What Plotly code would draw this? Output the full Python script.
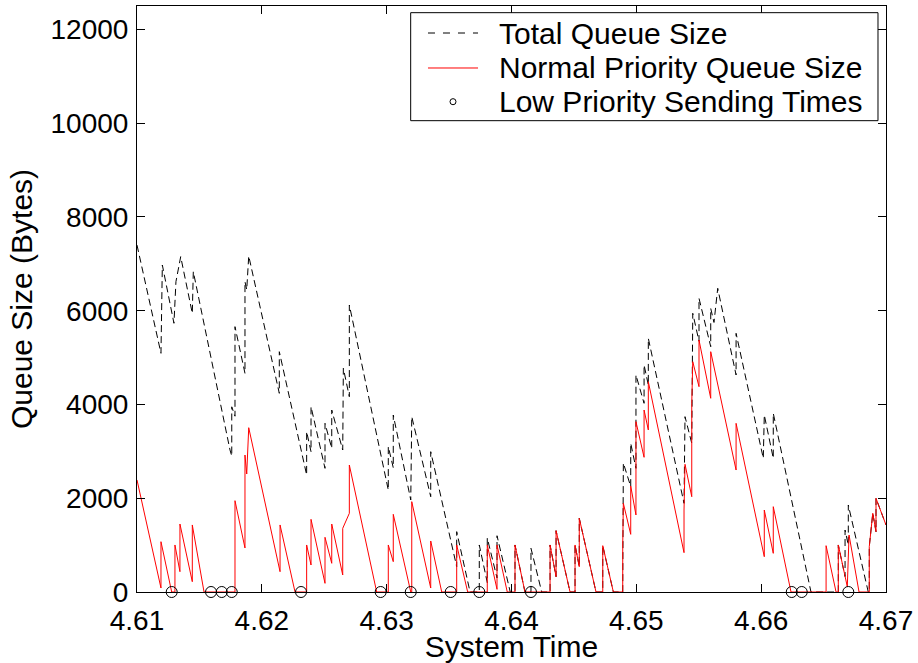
import plotly.graph_objects as go

# Normal priority queue size (bytes) over system time (s)
normal_t = [4.61000, 4.61192, 4.61192, 4.61278, 4.61304, 4.61304, 4.61344, 4.61344, 4.61443, 4.61443,
            4.61537, 4.61785, 4.61785, 4.61865, 4.61865, 4.61879, 4.61895, 4.62146, 4.62146, 4.62266,
            4.62359, 4.62359, 4.62394, 4.62394, 4.62506, 4.62506, 4.62560, 4.62560, 4.62648, 4.62648,
            4.62701, 4.62701, 4.62920, 4.63013, 4.63013, 4.63053, 4.63053, 4.63193, 4.63201, 4.63201,
            4.63353, 4.63353, 4.63441, 4.63561, 4.63561, 4.63649, 4.63806, 4.63806, 4.63884, 4.63884,
            4.63966, 4.64028, 4.64028, 4.64108, 4.64309, 4.64309, 4.64357, 4.64357, 4.64469, 4.64509,
            4.64509, 4.64543, 4.64543, 4.64677, 4.64731, 4.64731, 4.64816, 4.64891, 4.64891, 4.64896,
            4.64955, 4.64955, 4.64997, 4.64997, 4.65062, 4.65062, 4.65096, 4.65096, 4.65382, 4.65382,
            4.65390, 4.65444, 4.65444, 4.65452, 4.65502, 4.65502, 4.65596, 4.65596, 4.65799, 4.65799,
            4.66025, 4.66025, 4.66097, 4.66097, 4.66239, 4.66520, 4.66520, 4.66600, 4.66618, 4.66618,
            4.66690, 4.66704, 4.66784, 4.66866, 4.66866, 4.66894, 4.66920, 4.66920, 4.67000]
normal_q = [2390, 85, 1073, 0, 0, 1003, 433, 1450, 220, 1430,
            0, 0, 1948, 939, 2922, 2517, 3505, 433, 1430, 0,
            0, 1003, 576, 1550, 185, 1167, 612, 1450, 363, 1358,
            1679, 2709, 0, 0, 1003, 647, 1657, 0, 0, 1927,
            85, 1088, 0, 0, 1003, 0, 0, 1003, 57, 1003,
            0, 0, 1003, 0, 0, 1003, 327, 1308, 0, 0,
            1003, 540, 1572, 0, 0, 988, 0, 0, 1003, 1892,
            1230, 2261, 1643, 3633, 2873, 3882, 3456, 4486, 839, 1749,
            2724, 2033, 4025, 4913, 4380, 5375, 4132, 5126, 2602, 3598,
            753, 1749, 825, 1820, 0, 0, 988, 0, 0, 1003,
            113, 1216, 0, 0, 967, 1679, 1287, 1998, 1430]

# Total queue size (bytes) over system time (s)
total_t = [4.61000, 4.61192, 4.61203, 4.61296, 4.61312, 4.61350, 4.61443, 4.61451, 4.61745, 4.61759,
           4.61759, 4.61785, 4.61785, 4.61865, 4.61865, 4.61879, 4.61895, 4.62140, 4.62140, 4.62359,
           4.62359, 4.62394, 4.62394, 4.62506, 4.62506, 4.62560, 4.62560, 4.62648, 4.62653, 4.62701,
           4.62701, 4.63013, 4.63013, 4.63053, 4.63053, 4.63193, 4.63201, 4.63353, 4.63353, 4.63561,
           4.63561, 4.63668, 4.63742, 4.63742, 4.63806, 4.63806, 4.63884, 4.63884, 4.63990, 4.64028,
           4.64028, 4.64108, 4.64156, 4.64156, 4.64242, 4.64309, 4.64309, 4.64357, 4.64357, 4.64469,
           4.64509, 4.64509, 4.64543, 4.64543, 4.64677, 4.64731, 4.64731, 4.64816, 4.64891, 4.64896,
           4.64955, 4.64955, 4.64997, 4.64997, 4.65062, 4.65062, 4.65096, 4.65096, 4.65382, 4.65390,
           4.65444, 4.65452, 4.65502, 4.65502, 4.65596, 4.65596, 4.65622, 4.65652, 4.65799, 4.65799,
           4.66017, 4.66025, 4.66097, 4.66097, 4.66399, 4.66618, 4.66618, 4.66672, 4.66672, 4.66698,
           4.66698, 4.66858, 4.66866, 4.66866, 4.66894, 4.66920, 4.66920, 4.67000]
total_q = [7400, 5092, 6975, 5732, 6620, 7153, 5945, 6833, 3029, 2900,
           3950, 3750, 5660, 4665, 6620, 6450, 7167, 4238, 5126, 2496,
           3420, 2993, 3953, 2638, 3598, 3065, 3882, 3029, 4772, 4166,
           6122, 2176, 3100, 2650, 3775, 1963, 3740, 2033, 2993, 540,
           1287, 0, 0, 1003, 200, 1150, 300, 1200, 0, 0,
           1003, 0, 0, 932, 0, 0, 1003, 327, 1308, 0,
           0, 1003, 540, 1572, 0, 0, 988, 0, 0, 2750,
           2250, 3172, 2638, 4629, 4025, 4842, 4416, 5410, 1892, 3740,
           3172, 5945, 5350, 6265, 5233, 6050, 5750, 6478, 4629, 5518,
           2852, 3775, 2852, 3811, 0, 0, 1003, 330, 1322, 1000,
           1856, 0, 0, 967, 1679, 1287, 1998, 1430]

# Instants at which low priority packets were sent
low_send_t = [4.61278, 4.61593, 4.61679, 4.61759, 4.62314, 4.62952, 4.63193,
              4.63513, 4.63742, 4.64156, 4.66245, 4.66325, 4.66698]
low_send_q = [0] * len(low_send_t)

x_ticks = [4.61, 4.62, 4.63, 4.64, 4.65, 4.66, 4.67]
x_tick_text = ["4.61", "4.62", "4.63", "4.64", "4.65", "4.66", "4.67"]
y_ticks = [0, 2000, 4000, 6000, 8000, 10000, 12000]
y_tick_text = ["0", "2000", "4000", "6000", "8000", "10000", "12000"]

legend_labels = ["Total Queue Size", "Normal Priority Queue Size", "Low Priority Sending Times"]

FONT = "Liberation Sans, Arial, Helvetica, sans-serif"
DASH = "7px,4px"

fig = go.Figure()
fig.add_trace(go.Scatter(
    x=total_t, y=total_q, mode="lines", name=legend_labels[0],
    line=dict(color="black", width=1, dash=DASH), showlegend=False,
))
fig.add_trace(go.Scatter(
    x=normal_t, y=normal_q, mode="lines", name=legend_labels[1],
    line=dict(color="#ff0000", width=1), showlegend=False,
))
fig.add_trace(go.Scatter(
    x=low_send_t, y=low_send_q, mode="markers", name=legend_labels[2],
    marker=dict(symbol="circle-open", size=11, color="black", line=dict(width=1, color="black")),
    showlegend=False, cliponaxis=False,
))

# Boxed legend in the upper right corner of the axes (paper coordinates)
box = dict(x0=0.3654, x1=0.9893, y0=0.8043, y1=0.9886)
key_x0, key_x1, text_x = 0.3885, 0.4553, 0.4806
rows_y = [0.9539, 0.8942, 0.8367]
shapes = [
    dict(type="rect", xref="paper", yref="paper", **box,
         line=dict(color="black", width=1), fillcolor="white", layer="above"),
    dict(type="line", xref="paper", yref="paper", x0=key_x0, x1=key_x1, y0=rows_y[0], y1=rows_y[0],
         line=dict(color="black", width=1, dash="7px,8px"), layer="above"),
    dict(type="line", xref="paper", yref="paper", x0=key_x0, x1=key_x1, y0=rows_y[1], y1=rows_y[1],
         line=dict(color="#ff0000", width=1), layer="above"),
    dict(type="circle", xref="paper", yref="paper",
         x0=(key_x0 + key_x1) / 2 - 0.004, x1=(key_x0 + key_x1) / 2 + 0.004,
         y0=rows_y[2] - 0.0052, y1=rows_y[2] + 0.0052,
         line=dict(color="black", width=1), layer="above"),
]
annotations = [
    dict(text=label, xref="paper", yref="paper", x=text_x, y=yy, xanchor="left", yanchor="middle",
         showarrow=False, font=dict(family=FONT, size=30, color="black"))
    for label, yy in zip(legend_labels, rows_y)
]

axis_common = dict(
    showline=True, linecolor="black", linewidth=1, mirror="allticks",
    ticks="inside", ticklen=8, tickcolor="black", tickwidth=1,
    showgrid=False, zeroline=False, automargin=False,
    tickfont=dict(family=FONT, size=28, color="black"),
)

fig.update_layout(
    width=918, height=663,
    margin=dict(l=137, r=32, t=6, b=71),
    paper_bgcolor="white", plot_bgcolor="white",
    font=dict(family=FONT, color="black"),
    xaxis=dict(range=[4.61, 4.67], tickvals=x_ticks, ticktext=x_tick_text,
               title=dict(text="System Time", font=dict(family=FONT, size=30), standoff=3),
               ticklabelstandoff=3, **axis_common),
    yaxis=dict(range=[0, 12500], tickvals=y_ticks, ticktext=y_tick_text,
               title=dict(text="Queue Size (Bytes)", font=dict(family=FONT, size=30), standoff=9),
               ticklabelstandoff=2, **axis_common),
    shapes=shapes,
    annotations=annotations,
    showlegend=False,
)

fig.write_html("out.html")
